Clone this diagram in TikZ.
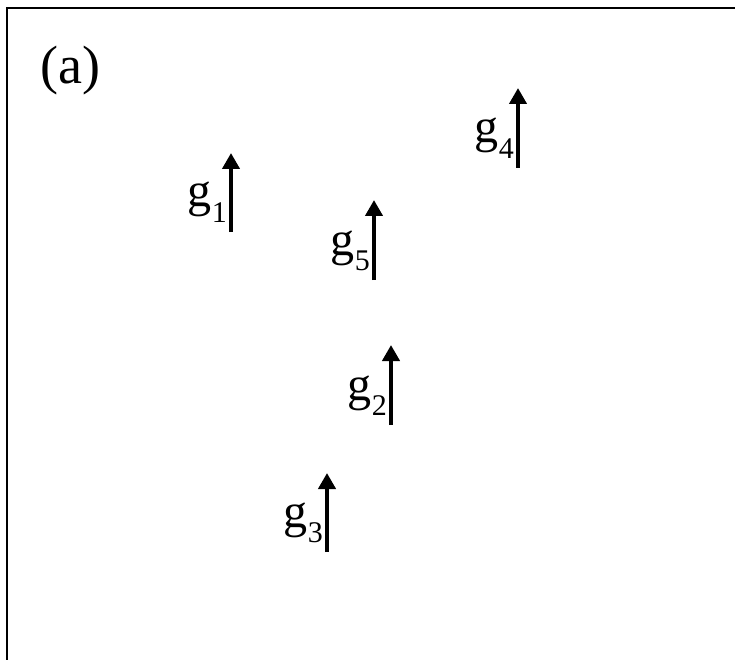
\documentclass[tikz,border=0pt]{standalone}
\usepackage{fontspec}
\setmainfont{Liberation Serif}
\usetikzlibrary{arrows.meta}
\newcommand\gsub[1]{g\raisebox{-0.32em}{\fontsize{30}{30}\selectfont #1}}
\tikzset{
  vec/.style={line width=4.8pt,-{Triangle[width=17pt,length=16pt]}},
  glabel/.style={inner sep=0pt,anchor=base east,font=\fontsize{48}{48}\selectfont},
  frame/.style={line width=2.5pt}
}
\begin{document}
\begin{tikzpicture}[x=1pt,y=-1pt]
\useasboundingbox (0,0) rectangle (735,660);
\coordinate (fb) at (7,662);
\coordinate (fc) at (7,8);
\coordinate (fr) at (737,8);
\draw[frame] (fb) -- (fc) -- (fr);
\node[inner sep=0pt,anchor=base west,font=\fontsize{54}{54}\selectfont] (lab) at (40,84) {(a)};
% arrows: bottom and top
\coordinate (b1) at (231,232); \coordinate (t1) at (231,153);
\coordinate (b2) at (391,425); \coordinate (t2) at (391,345);
\coordinate (b3) at (327,552); \coordinate (t3) at (327,473);
\coordinate (b4) at (518,168); \coordinate (t4) at (518,88);
\coordinate (b5) at (374,280); \coordinate (t5) at (374,200);
\draw[vec] (b1) -- (t1);
\draw[vec] (b2) -- (t2);
\draw[vec] (b3) -- (t3);
\draw[vec] (b4) -- (t4);
\draw[vec] (b5) -- (t5);
\node[glabel] (g1) at ([shift={(-4,-25)}]b1) {\gsub{1}};
\node[glabel] (g2) at ([shift={(-4,-25)}]b2) {\gsub{2}};
\node[glabel] (g3) at ([shift={(-4,-25)}]b3) {\gsub{3}};
\node[glabel] (g4) at ([shift={(-4,-25)}]b4) {\gsub{4}};
\node[glabel] (g5) at ([shift={(-4,-25)}]b5) {\gsub{5}};
\end{tikzpicture}
\end{document}
